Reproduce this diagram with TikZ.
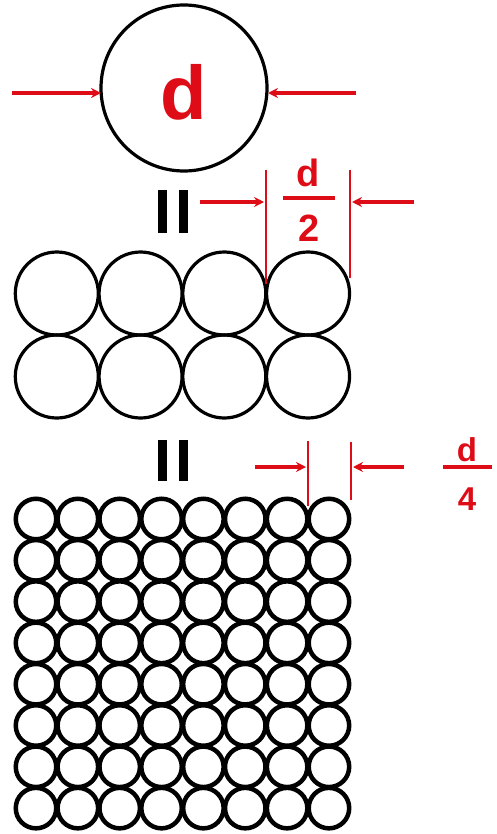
\documentclass[tikz,border=0pt]{standalone}
\usepackage{fontspec}
\setmainfont{Liberation Sans}
\usetikzlibrary{arrows.meta}
\definecolor{dimred}{RGB}{222,12,22}
\begin{document}
\begin{tikzpicture}[x=1pt,y=-1pt,
  ball/.style={circle,draw=black,inner sep=0pt,outer sep=0pt},
  dimarrow/.style={draw=dimred,line width=3.4pt,-{Stealth[length=10pt,width=10pt]}},
  extline/.style={draw=dimred,line width=2pt},
  fracbar/.style={draw=dimred,line width=3.4pt},
  redtxt/.style={text=dimred,font=\bfseries,inner sep=0pt},
  eqbar/.style={draw=black,line width=9pt}]
\useasboundingbox (0,0) rectangle (497,834);
% big circle
\node[ball,line width=3.2pt,minimum size=166pt] (big) at (184,88) {};
\node[redtxt,font=\bfseries\fontsize{76}{76}\selectfont] (dbig) at (184,92) {d};
\coordinate (la) at (12,93);
\coordinate (lt) at (101,93);
\coordinate (ra) at (356,93);
\coordinate (rt) at (268,93);
\draw[dimarrow] (la) -- (lt);
\draw[dimarrow] (ra) -- (rt);
% first equals
\coordinate (e1a) at (162,190); \coordinate (e1b) at (162,233);
\coordinate (e1c) at (183,190); \coordinate (e1d) at (183,233);
\draw[eqbar] (e1a) -- (e1b);
\draw[eqbar] (e1c) -- (e1d);
% middle grid 4x2
\foreach \i in {0,...,3}{
  \foreach \j in {0,1}{
    \node[ball,line width=3.2pt,minimum size=83pt] (m-\i-\j) at ({56.8+83.75*\i},{293.5+83*\j}) {};
  }
}
% d/2 dimension
\coordinate (x2a) at (266,170); \coordinate (x2b) at (266,284);
\coordinate (x2c) at (350,170); \coordinate (x2d) at (350,278);
\draw[extline] (x2a) -- (x2b);
\draw[extline] (x2c) -- (x2d);
\coordinate (a2l) at (200,202); \coordinate (a2lt) at (264,202);
\coordinate (a2r) at (414,202); \coordinate (a2rt) at (352,202);
\draw[dimarrow] (a2l) -- (a2lt);
\draw[dimarrow] (a2r) -- (a2rt);
\node[redtxt,font=\bfseries\fontsize{38}{38}\selectfont] (h2d) at (308,173) {d};
\node[redtxt,font=\bfseries\fontsize{38}{38}\selectfont] (h22) at (309,228) {2};
\coordinate (b2a) at (283,198); \coordinate (b2b) at (335,198);
\draw[fracbar] (b2a) -- (b2b);
% second equals
\coordinate (e2a) at (162,440); \coordinate (e2b) at (162,481);
\coordinate (e2c) at (183,440); \coordinate (e2d) at (183,481);
\draw[eqbar] (e2a) -- (e2b);
\draw[eqbar] (e2c) -- (e2d);
% bottom grid 8x8
\foreach \i in {0,...,7}{
  \foreach \j in {0,...,7}{
    \node[ball,line width=4.5pt,minimum size=40.5pt] (s-\i-\j) at ({36+41.85*\i},{519+41.3*\j}) {};
  }
}
% d/4 dimension
\coordinate (x4a) at (308,441); \coordinate (x4b) at (308,506);
\coordinate (x4c) at (351,442); \coordinate (x4d) at (351,500);
\draw[extline] (x4a) -- (x4b);
\draw[extline] (x4c) -- (x4d);
\coordinate (a4l) at (255,467); \coordinate (a4lt) at (306,467);
\coordinate (a4r) at (404,467); \coordinate (a4rt) at (353,467);
\draw[dimarrow] (a4l) -- (a4lt);
\draw[dimarrow] (a4r) -- (a4rt);
\node[redtxt,font=\bfseries\fontsize{33}{33}\selectfont] (h4d) at (467,450) {d};
\node[redtxt,font=\bfseries\fontsize{33}{33}\selectfont] (h44) at (467,499) {4};
\coordinate (b4a) at (443,467); \coordinate (b4b) at (492,467);
\draw[fracbar] (b4a) -- (b4b);
\end{tikzpicture}
\end{document}
